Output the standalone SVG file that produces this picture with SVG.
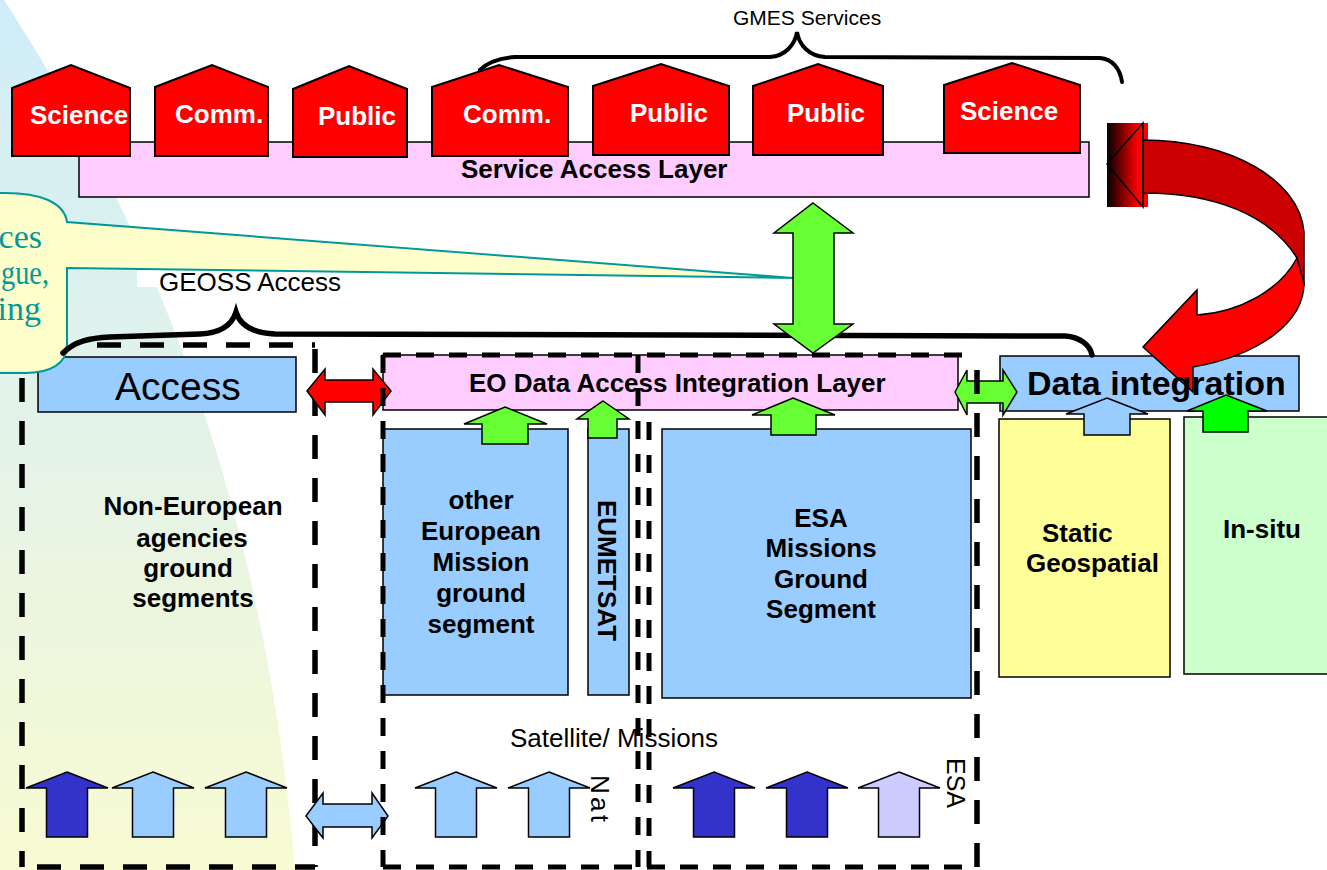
<svg xmlns="http://www.w3.org/2000/svg" width="1327" height="870" viewBox="0 0 1327 870">
<defs>
<linearGradient id="bg" x1="0" y1="0" x2="0" y2="870" gradientUnits="userSpaceOnUse">
<stop offset="0" stop-color="#cfedf9"/>
<stop offset="0.5" stop-color="#e4f3e8"/>
<stop offset="1" stop-color="#f8fbd2"/>
</linearGradient>
<linearGradient id="tailgrad" x1="0" y1="0" x2="1" y2="0">
<stop offset="0" stop-color="#000000"/>
<stop offset="0.75" stop-color="#ff0000"/>
<stop offset="1" stop-color="#ff0000"/>
</linearGradient>
<path id="up" d="M0,0 L41,16 L20.5,16 L20.5,65 L-20.5,65 L-20.5,16 L-41,16 Z"/>
</defs>
<style>
.b{font-family:"Liberation Sans",Arial,sans-serif;font-weight:bold;font-size:26px;fill:#000}
.r{font-family:"Liberation Sans",Arial,sans-serif;font-size:26px;fill:#000}
.w{font-family:"Liberation Sans",Arial,sans-serif;font-weight:bold;font-size:26px;fill:#fff}
.house{fill:#ff0000;stroke:#000;stroke-width:2}
.pink{fill:#ffccff;stroke:#000;stroke-width:1.5}
.lb{fill:#99ccff;stroke:#000;stroke-width:1.5}
.sh{stroke:#000;stroke-width:1.5;stroke-linejoin:miter}
.dashA{fill:none;stroke:#000;stroke-width:5.5;stroke-dasharray:24 19}
.dashB{fill:none;stroke:#000;stroke-width:5;stroke-dasharray:18 15}
.brace{fill:none;stroke:#000;stroke-linecap:round}
.call{font-family:"Liberation Serif","Times New Roman",serif;font-size:34px;fill:#009999}
</style>

<!-- background -->
<path d="M0,0 L4,0 C120,180 260,450 295,870 L0,870 Z" fill="url(#bg)"/>
<rect x="137" y="270" width="235" height="17" fill="#ffffff"/>

<!-- Service layer and houses -->
<g id="service-access-layer">
<rect class="pink" x="79" y="142" width="1010" height="55"/>
<text class="b" x="461" y="178">Service Access Layer</text>
</g>
<g id="house-science-1"><path class="house" d="M12,156 L12,88 L71,65 L130,88 L130,156 Z"/><text class="w" x="30" y="124">Science</text></g>
<g id="house-comm-1"><path class="house" d="M155,156 L155,87 L212,65 L268,87 L268,156 Z"/><text class="w" x="175" y="123">Comm.</text></g>
<g id="house-public-1"><path class="house" d="M293,157 L293,89 L349,66 L407,89 L407,157 Z"/><text class="w" x="318" y="125">Public</text></g>
<g id="house-comm-2"><path class="house" d="M432,156 L432,87 L499,65 L568,87 L568,156 Z"/><text class="w" x="463" y="123">Comm.</text></g>
<g id="house-public-2"><path class="house" d="M593,155 L593,86 L661,64 L729,86 L729,155 Z"/><text class="w" x="630" y="122">Public</text></g>
<g id="house-public-3"><path class="house" d="M753,155 L753,86 L818,64 L883,86 L883,155 Z"/><text class="w" x="787" y="122">Public</text></g>
<g id="house-science-2"><path class="house" d="M944,153 L944,85 L1012,63 L1080,85 L1080,153 Z"/><text class="w" x="960" y="120">Science</text></g>

<text class="r" x="733" y="25" style="font-size:21px">GMES Services</text>
<text class="r" x="159" y="291">GEOSS Access</text>

<!-- Access & box A -->
<g id="access">
<rect class="lb" x="38" y="357" width="258" height="55"/>
<text class="r" x="115" y="400" style="font-size:39px">Access</text>
</g>
<g id="non-european">
<line class="dashA" x1="97" y1="345" x2="315" y2="345"/>
<line class="dashA" x1="315" y1="345" x2="315" y2="867" stroke-dashoffset="-4"/>
<line class="dashA" x1="22" y1="345" x2="22" y2="867" stroke-dashoffset="10"/>
<line class="dashA" x1="37" y1="867" x2="315" y2="867"/>
<text class="b" x="193" y="515" text-anchor="middle">Non-European</text>
<text class="b" x="192" y="547" text-anchor="middle">agencies</text>
<text class="b" x="188" y="577" text-anchor="middle">ground</text>
<text class="b" x="193" y="607" text-anchor="middle">segments</text>
</g>

<!-- Callout -->
<g id="callout">
<path d="M-10,193 L5,193 C40,193 64,202 67,222 L793,278 L67,268 L67,345 C67,364 50,373 25,373 L-10,373 Z" fill="#ffffcc" stroke="#009999" stroke-width="2"/>
<text class="call" x="42" y="248" text-anchor="end">ces</text>
<text class="call" x="1" y="284" textLength="48" lengthAdjust="spacingAndGlyphs">gue,</text>
<text class="call" x="41" y="320" text-anchor="end">ing</text>
</g>

<!-- EO layer -->
<g id="eo-layer">
<rect class="pink" x="383" y="355" width="575" height="55"/>
<text class="b" x="469" y="392">EO Data Access Integration Layer</text>
</g>
<g id="other-european">
<rect class="lb" x="383" y="429" width="185" height="266"/>
<text class="b" x="481" y="509" text-anchor="middle">other</text>
<text class="b" x="481" y="540" text-anchor="middle">European</text>
<text class="b" x="481" y="571" text-anchor="middle">Mission</text>
<text class="b" x="481" y="602" text-anchor="middle">ground</text>
<text class="b" x="481" y="633" text-anchor="middle">segment</text>
</g>
<g id="eumetsat">
<rect class="lb" x="588" y="429" width="41" height="266"/>
<text class="b" transform="translate(598,500) rotate(90)">EUMETSAT</text>
</g>
<g id="esa-ground">
<rect class="lb" x="662" y="429" width="309" height="269"/>
<text class="b" x="821" y="527" text-anchor="middle">ESA</text>
<text class="b" x="821" y="557" text-anchor="middle">Missions</text>
<text class="b" x="821" y="588" text-anchor="middle">Ground</text>
<text class="b" x="821" y="618" text-anchor="middle">Segment</text>
</g>

<!-- Data integration -->
<g id="data-integration-box">
<rect class="lb" x="1000" y="356" width="299" height="55"/>
</g>
<g id="static-geospatial">
<rect x="999" y="419" width="171" height="258" fill="#ffff99" stroke="#000" stroke-width="1.5"/>
<text class="b" x="1042" y="542">Static</text>
<text class="b" x="1026" y="572">Geospatial</text>
</g>
<g id="in-situ">
<rect x="1184" y="417" width="150" height="257" fill="#ccffcc" stroke="#000" stroke-width="1.5"/>
<text class="b" x="1223" y="538">In-situ</text>
</g>

<text class="r" x="510" y="747">Satellite/ Missions</text>

<g id="connectors">
<!-- braces -->
<path class="brace" stroke-width="4" d="M480,70 C488,62 500,58 515,57 L770,57 C785,56 795,45 797,32 C799,45 809,56 825,57 L1100,58 C1112,59 1120,68 1122,82"/>
<path class="brace" stroke-width="5.5" d="M63,353 C75,341 90,338 110,337 L200,334 C220,333 232,325 236,312 C240,325 252,333 275,334 L1065,336 C1080,337 1090,345 1092,355"/>

<!-- green up arrows -->
<path class="sh" fill="#66ff33" d="M505,407 L547,424 L528,424 L528,444 L482,444 L482,424 L464,424 Z"/>
<path class="sh" fill="#66ff33" d="M603,401 L629,419 L617,419 L617,438 L588,438 L588,419 L577,419 Z"/>
<path class="sh" fill="#66ff33" d="M793,398 L835,415 L816,415 L816,435 L771,435 L771,415 L752,415 Z"/>
<path class="sh" fill="#99ccff" d="M1107,398 L1148,414 L1130,414 L1130,435 L1084,435 L1084,414 L1066,414 Z"/>
<path class="sh" fill="#00ff00" d="M1226,395 L1267,411 L1248,411 L1248,432 L1203,432 L1203,411 L1187,411 Z"/>

<!-- big vertical green double arrow -->
<path class="sh" fill="#66ff33" d="M813,203 L853,233 L834,233 L834,324 L853,324 L813,353 L774,324 L793,324 L793,233 L774,233 Z"/>
<!-- green horizontal double arrow -->
<path class="sh" fill="#66ff33" d="M955,392 L967,370 L967,381 L1003,381 L1003,370 L1017,392 L1003,415 L1003,403 L967,403 L967,415 Z"/>
<!-- red horizontal double arrow -->
<path class="sh" fill="#ff0000" d="M307,391 L325,369 L325,380 L373,380 L373,369 L391,391 L373,415 L373,402 L325,402 L325,415 Z"/>
<!-- light blue bottom double arrow -->
<path class="sh" fill="#99ccff" d="M306,816 L323,793 L323,804 L372,804 L372,793 L388,816 L372,838 L372,827 L323,827 L323,838 Z"/>

<!-- curved red arrow -->
<rect x="1107" y="123" width="41" height="84" fill="url(#tailgrad)"/>
<path d="M1143,123 L1107,164 L1143,207 Z" fill="none" stroke="#000" stroke-width="1.5"/>
<path d="M1143,140 C1230,140 1300,180 1304,232 L1304,286 L1297,258 C1270,215 1215,193 1143,193 Z" fill="#cc0000" stroke="#000" stroke-width="1.5"/>
<path d="M1297,258 C1280,290 1240,312 1197,315 L1197,290 L1143,347 L1193,392 L1193,367 C1260,355 1304,322 1304,283 Z" fill="#ff0000" stroke="#000" stroke-width="1.5"/>

<!-- bottom up arrows -->
<use href="#up" x="67" y="772" fill="#3333cc" stroke="#000" stroke-width="1.5"/>
<use href="#up" x="153" y="772" fill="#99ccff" stroke="#000" stroke-width="1.5"/>
<use href="#up" x="246" y="772" fill="#99ccff" stroke="#000" stroke-width="1.5"/>
<use href="#up" x="456" y="772" fill="#99ccff" stroke="#000" stroke-width="1.5"/>
<use href="#up" x="549" y="772" fill="#99ccff" stroke="#000" stroke-width="1.5"/>
<use href="#up" x="714" y="772" fill="#3333cc" stroke="#000" stroke-width="1.5"/>
<use href="#up" x="807" y="772" fill="#3333cc" stroke="#000" stroke-width="1.5"/>
<use href="#up" x="899" y="772" fill="#ccccff" stroke="#000" stroke-width="1.5"/>
</g>

<text class="b" x="1027" y="395" style="font-size:34px">Data integration</text>

<!-- dashed mission boxes -->
<g id="national-esa-boxes">
<line class="dashB" x1="383" y1="355" x2="977" y2="355"/>
<line class="dashB" x1="383" y1="355" x2="383" y2="867"/>
<line class="dashB" x1="383" y1="867" x2="977" y2="867"/>
<line class="dashA" x1="977" y1="355" x2="977" y2="867" stroke-dashoffset="-15"/>
<line class="dashB" x1="638" y1="355" x2="638" y2="867"/>
<line class="dashB" x1="649" y1="422" x2="649" y2="867"/>
<text class="r" transform="translate(591,775) rotate(90)" textLength="47">Nat</text>
<text class="r" transform="translate(947,758) rotate(90)" style="font-size:25px">ESA</text>
</g>
</svg>
